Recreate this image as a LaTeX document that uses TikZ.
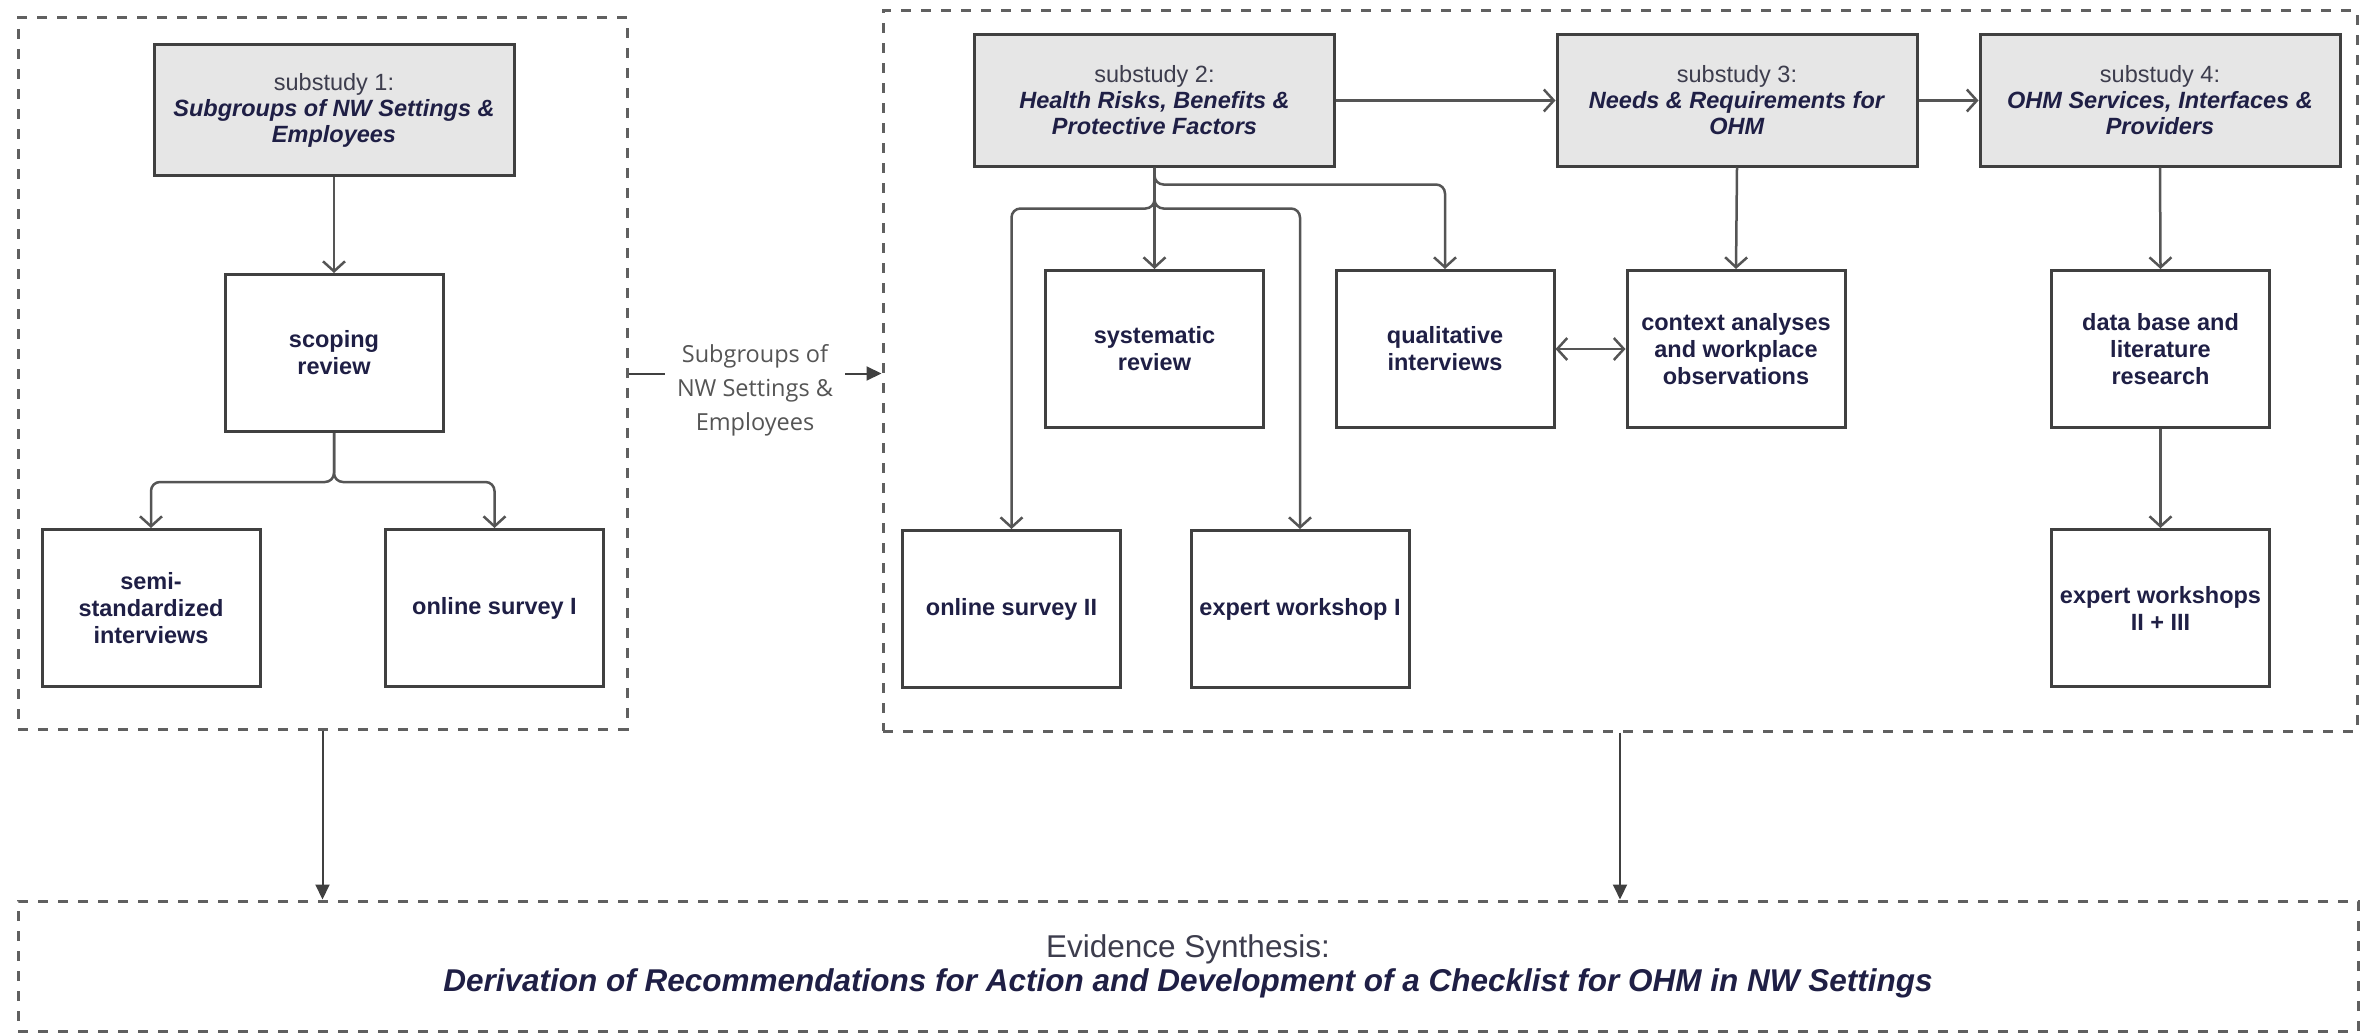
\documentclass[tikz,border=0pt]{standalone}
\usepackage{fontspec}
\setmainfont{Liberation Sans}
\newfontfamily\labelfont{Open Sans}
\usetikzlibrary{arrows.meta}
\definecolor{boxc}{HTML}{404040}
\definecolor{fillc}{HTML}{E6E6E6}
\definecolor{navy}{HTML}{1F1F45}
\definecolor{subc}{HTML}{3D3D4D}
\definecolor{dashc}{HTML}{606060}
\definecolor{arrc}{HTML}{555555}
\definecolor{labc}{HTML}{555555}
\tikzset{
  titlebox/.style={draw=boxc, line width=3pt, fill=fillc, minimum width=360pt, minimum height=131pt,
    align=center, inner sep=0pt, text=navy, font=\fontsize{23.5}{26}\selectfont},
  stepbox/.style={draw=boxc, line width=3pt, fill=white, minimum width=218pt, minimum height=157pt,
    align=center, inner sep=0pt, text=navy, font=\fontsize{23.5}{27}\selectfont\bfseries},
  groupbox/.style={draw=dashc, line width=3pt, dash pattern=on 10pt off 10pt, inner sep=0pt},
  arr/.style={draw=arrc, line width=2.5pt, rounded corners=9pt, -{Straight Barb[length=10pt,width=22pt]}},
  darr/.style={draw=arrc, line width=2.5pt, {Straight Barb[length=10pt,width=22pt]}-{Straight Barb[length=10pt,width=22pt]}},
  farr/.style={draw=boxc, line width=2pt, -{Triangle[length=15pt,width=14pt]}},
  lab/.style={fill=white, align=center, text=labc, inner sep=12pt, font=\labelfont\fontsize{23.5}{34}\selectfont},
}
\begin{document}
\begin{tikzpicture}[x=1pt,y=-1pt]
\useasboundingbox (0,0) rectangle (2360,1033);
% group boxes
\node[groupbox, minimum width=609pt, minimum height=711pt] (left) at (322.5,373.5) {};
\node[groupbox, minimum width=1474pt, minimum height=720pt] (right) at (1620,371) {};
\node[groupbox, minimum width=2340pt, minimum height=130pt, align=center, text=navy,
  font=\fontsize{31.5}{34}\selectfont] (synth) at (1188,966)
  {\textcolor{subc}{Evidence Synthesis:}\\\bfseries\itshape Derivation of Recommendations for Action and Development of a Checklist for OHM in NW Settings};
% substudy 1
\node[titlebox] (s1) at (334,110) {\textcolor{subc}{substudy 1:}\\\textbf{\textit{Subgroups of NW Settings \&}}\\\textbf{\textit{Employees}}};
\node[stepbox] (scop) at (334,353) {scoping\\review};
\node[stepbox] (semi) at (151,608) {semi-\\standardized\\interviews};
\node[stepbox] (os1) at (494.5,608) {online survey I};
% substudy 2
\node[titlebox] (s2) at (1154.5,100.5) {\textcolor{subc}{substudy 2:}\\\textbf{\textit{Health Risks, Benefits \&}}\\\textbf{\textit{Protective Factors}}};
\node[stepbox] (sys) at (1154.5,349) {systematic\\review};
\node[stepbox] (qual) at (1445,349) {qualitative\\interviews};
\node[stepbox] (os2) at (1011.5,609) {online survey II};
\node[stepbox] (ew1) at (1300,609) {expert workshop I};
% substudy 3
\node[titlebox] (s3) at (1737,100.5) {\textcolor{subc}{substudy 3:}\\\textbf{\textit{Needs \& Requirements for}}\\\textbf{\textit{OHM}}};
\node[stepbox] (ctx) at (1736,349) {context analyses\\and workplace\\observations};
% substudy 4
\node[titlebox] (s4) at (2160,100.5) {\textcolor{subc}{substudy 4:}\\\textbf{\textit{OHM Services, Interfaces \&}}\\\textbf{\textit{Providers}}};
\node[stepbox] (db) at (2160.5,349) {data base and\\literature\\research};
\node[stepbox] (ew23) at (2160.5,608) {expert workshops\\II + III};
% connectors substudy 1
\draw[arr] (s1.south) -- (scop.north);
\draw[arr] (scop.south) -- ++(0,49) -| (semi.north);
\draw[arr] (scop.south) -- ++(0,49) -| (os1.north);
% connectors substudy 2
\draw[arr] (s2.south) -- (sys.north);
\draw[arr] (s2.south) -- ++(0,17) -| (qual.north);
\draw[arr] (s2.south) -- ++(0,41) -| (os2.north);
\draw[arr] (s2.south) -- ++(0,41) -| (ew1.north);
\draw[arr] (s2.east) -- (s3.west);
\draw[arr] (s3.east) -- (s4.west);
\draw[arr] (s3.south) -- (ctx.north);
\draw[darr] (qual.east) -- (ctx.west);
\draw[arr] (s4.south) -- (db.north);
\draw[arr] (db.south) -- (ew23.north);
% between groups
\draw[farr] (left.east) -- node[lab, yshift=-17pt] {Subgroups of\\NW Settings \&\\Employees} (left.east -| right.west);
\draw[farr] (left.south) -- (left.south |- synth.north);
\draw[farr] (right.south) -- (right.south |- synth.north);
\end{tikzpicture}
\end{document}
